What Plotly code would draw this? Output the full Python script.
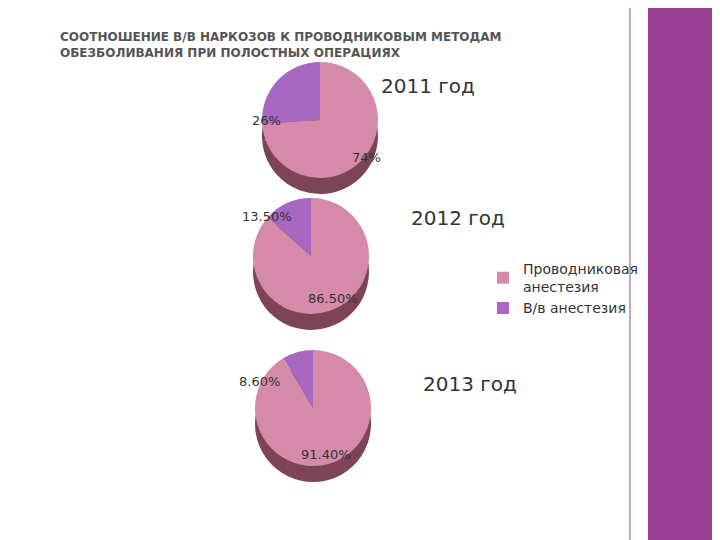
import plotly.graph_objects as go

# данные
labels = ["В/в анестезия", "Проводниковая<br>анестезия"]
years = ["2011 год", "2012 год", "2013 год"]
iv_share = [26, 13.5, 8.6]
regional_share = [74, 86.5, 91.4]
iv_text = ["26%", "13.50%", "8.60%"]
regional_text = ["74%", "86.50%", "91.40%"]

W, H = 720, 540
centers = [(312, 112), (303, 248), (305, 400)]
r = 58
depth = 16

fig = go.Figure()

for i, (cx, cy) in enumerate(centers):
    vals = [iv_share[i], regional_share[i]]
    # тёмная "боковина" для объёма
    fig.add_trace(go.Pie(
        labels=labels, values=vals, sort=False, direction="clockwise", rotation=-360 * vals[0] / 100,
        marker=dict(colors=["#6e3a55", "#7d4458"], line=dict(width=0)),
        textinfo="none", hoverinfo="skip", showlegend=False,
        domain=dict(x=[(cx - r) / W, (cx + r) / W],
                    y=[1 - (cy + r + depth) / H, 1 - (cy - r + depth) / H]),
    ))
    fig.add_trace(go.Pie(
        labels=labels, values=vals, sort=False, direction="clockwise", rotation=-360 * vals[0] / 100,
        marker=dict(colors=["#a868c2", "#d48aa8"], line=dict(width=0)),
        textinfo="none", showlegend=(i == 0),
        domain=dict(x=[(cx - r) / W, (cx + r) / W],
                    y=[1 - (cy + r) / H, 1 - (cy - r) / H]),
    ))

ann = []
iv_pos = [(258, 103), (232, 208), (252, 383)]
reg_pos = [(358, 140), (325, 290), (318, 456)]
year_pos = [(420, 64), (450, 210), (462, 390)]
for i in range(3):
    ann.append(dict(x=iv_pos[i][0] / W, y=1 - iv_pos[i][1] / H, text=iv_text[i]))
    ann.append(dict(x=reg_pos[i][0] / W, y=1 - reg_pos[i][1] / H, text=regional_text[i]))
    ann.append(dict(x=year_pos[i][0] / W, y=1 - year_pos[i][1] / H, text=years[i],
                    font=dict(size=20, color="#333333", family="DejaVu Sans")))
for a in ann:
    a.update(xref="paper", yref="paper", showarrow=False)
    a.setdefault("font", dict(size=13, color="#333333", family="DejaVu Sans"))

ann.append(dict(x=50 / W, y=1 - 20 / H, xref="paper", yref="paper", showarrow=False,
                xanchor="left", yanchor="top", align="left",
                text="<b>СООТНОШЕНИЕ В/В НАРКОЗОВ К ПРОВОДНИКОВЫМ МЕТОДАМ<br>"
                     "ОБЕЗБОЛИВАНИЯ ПРИ ПОЛОСТНЫХ ОПЕРАЦИЯХ</b>",
                font=dict(size=12, color="#555555", family="DejaVu Sans")))

fig.update_layout(
    width=W, height=H, margin=dict(l=0, r=0, t=0, b=0),
    paper_bgcolor="white", plot_bgcolor="white",
    annotations=ann,
    legend=dict(x=475 / W, y=1 - 245 / H, xanchor="left", yanchor="top",
                traceorder="reversed", bgcolor="rgba(0,0,0,0)",
                font=dict(size=14, color="#333333", family="DejaVu Sans")),
    shapes=[
        dict(type="rect", xref="paper", yref="paper", x0=640 / W, x1=1, y0=0, y1=1,
             fillcolor="#9b3f96", line=dict(width=0), layer="below"),
        dict(type="line", xref="paper", yref="paper", x0=622 / W, x1=622 / W, y0=0, y1=1,
             line=dict(color="#9b3f96", width=1)),
    ],
)

fig.write_html("out.html")
